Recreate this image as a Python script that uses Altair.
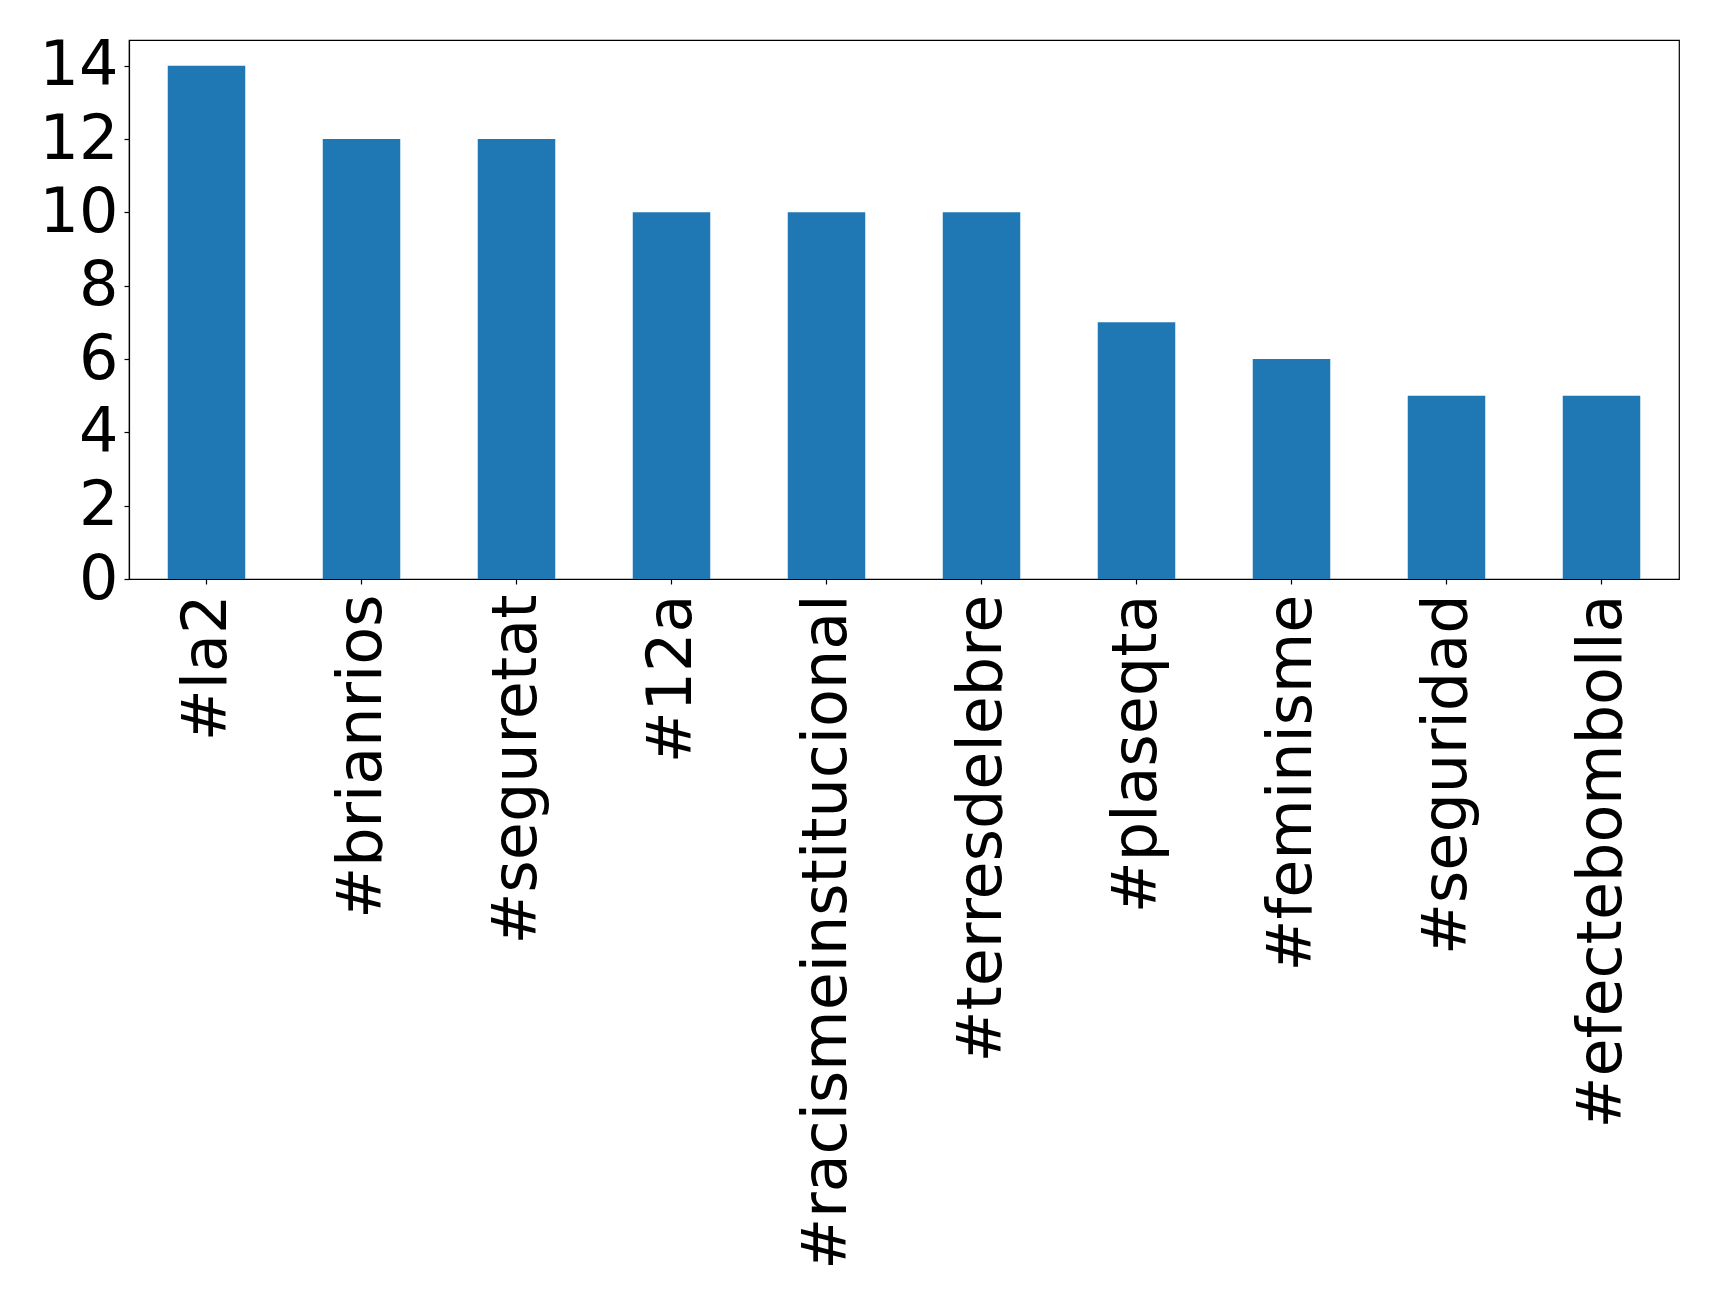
import altair as alt
import pandas as pd

hashtags = ["#la2", "#brianrios", "#seguretat", "#12a", "#racismeinstitucional",
            "#terresdelebre", "#plaseqta", "#feminisme", "#seguridad", "#efectebombolla"]
counts = [14, 12, 12, 10, 10, 10, 7, 6, 5, 5]
y_ticks = [0, 2, 4, 6, 8, 10, 12, 14]

df = pd.DataFrame({"hashtag": hashtags, "count": counts})

chart = alt.Chart(df).mark_bar(color="#1f77b4").encode(
    x=alt.X("hashtag:N", sort=hashtags, title=None,
            scale=alt.Scale(paddingInner=0.5, paddingOuter=0.25),
            axis=alt.Axis(labelAngle=270, labelAlign="right", labelBaseline="middle",
                          labelFontSize=62, labelFont="DejaVu Sans", labelColor="black",
                          tickColor="black", tickSize=5, labelPadding=10,
                          domainColor="black", labelOverlap=False, labelLimit=2000)),
    y=alt.Y("count:Q", title=None,
            scale=alt.Scale(domain=[0, 14.7], nice=False, zero=True),
            axis=alt.Axis(values=y_ticks, grid=False, labelFontSize=62,
                          labelFont="DejaVu Sans", labelColor="black",
                          tickColor="black", tickSize=5, labelPadding=6,
                          domainColor="black", labelBaseline="middle")),
).properties(
    width=1550, height=539,
    autosize=alt.AutoSizeParams(type="none"),
    padding={"left": 121, "top": 32, "right": 30, "bottom": 720},
).configure_view(
    stroke="black", strokeWidth=1.2
).configure_axis(
    domainWidth=1.2, tickWidth=1.2
)

chart.save("out.html", embed_options={"renderer": "svg", "actions": False})
